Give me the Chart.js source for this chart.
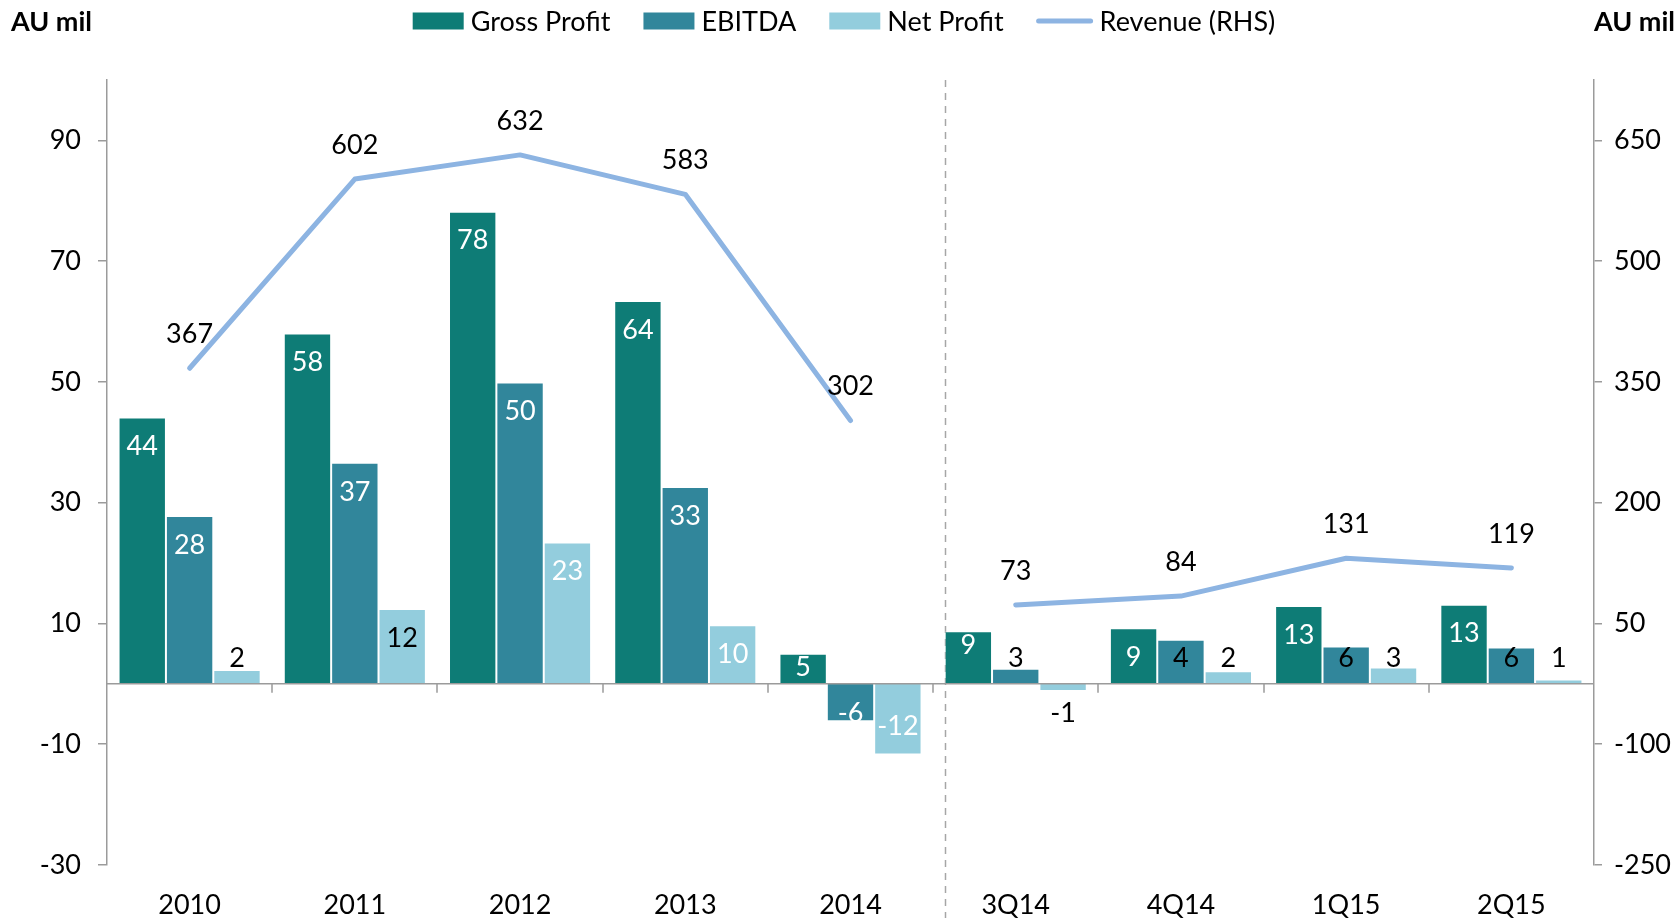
<!DOCTYPE html>
<html>
<head>
<meta charset="utf-8">
<script src="https://cdn.jsdelivr.net/npm/chart.js@4.4.1/dist/chart.umd.min.js"></script>
<style>
  html, body { margin: 0; padding: 0; background: #fff; }
  #wrap { width: 1677px; height: 918px; }
</style>
</head>
<body>
<div id="wrap"><canvas id="chart" width="1677" height="918"></canvas></div>
<script>
// values (bar heights), and the printed labels
var categories = ['2010', '2011', '2012', '2013', '2014', '3Q14', '4Q14', '1Q15', '2Q15'];
var grossProfit = [44.1, 58.0, 78.2, 63.4, 5.0, 8.7, 9.2, 12.9, 13.1];
var ebitda = [27.8, 36.6, 49.9, 32.6, -6.2, 2.5, 7.3, 6.2, 6.0];
var netProfit = [2.3, 12.4, 23.4, 9.7, -11.7, -1.2, 2.1, 2.7, 0.7];
var revenue = [367, 602, 632, 583, 302, 73, 84, 131, 119];

var grossProfitLabels = ['44', '58', '78', '64', '5', '9', '9', '13', '13'];
var ebitdaLabels = ['28', '37', '50', '33', '-6', '3', '4', '6', '6'];
var netProfitLabels = ['2', '12', '23', '10', '-12', '-1', '2', '3', '1'];

var leftTicks = [-30, -10, 10, 30, 50, 70, 90];
var rightTicks = [-250, -100, 50, 200, 350, 500, 650];

var FONT = 'Lato, "Open Sans", sans-serif';
var FSIZE = 27;
var AXIS_GREY = '#9b9b9b';
var W = '#ffffff', B = '#000000';

var overlay = {
  id: 'overlay',
  beforeDatasetsDraw: function(chart) {
    var ctx = chart.ctx;
    var el = chart.getDatasetMeta(0).data[5];
    var xd = Math.round(el.x - el.width / 2) + 0.5;
    ctx.save();
    ctx.strokeStyle = '#a6a6a6';
    ctx.lineWidth = 1.5;
    ctx.setLineDash([7, 6]);
    ctx.beginPath();
    ctx.moveTo(xd, chart.chartArea.top);
    ctx.lineTo(xd, chart.height);
    ctx.stroke();
    ctx.restore();
  },
  afterDatasetsDraw: function(chart) {
    var ctx = chart.ctx;
    var area = chart.chartArea;
    var xs = chart.scales.x;
    var y0 = chart.scales.y.getPixelForValue(0);

    // zero line with category dividers
    ctx.save();
    ctx.strokeStyle = AXIS_GREY;
    ctx.lineWidth = 1.5;
    ctx.beginPath();
    ctx.moveTo(area.left, y0);
    ctx.lineTo(area.right, y0);
    for (var i = 1; i < categories.length; i++) {
      var bx = Math.round((xs.getPixelForValue(i - 1) + xs.getPixelForValue(i)) / 2);
      ctx.moveTo(bx, y0);
      ctx.lineTo(bx, y0 + 9);
    }
    ctx.stroke();

    ctx.font = FSIZE + 'px ' + FONT;
    ctx.textAlign = 'center';
    ctx.textBaseline = 'middle';

    // bar labels: white ones sit inside the bar end, dark ones just off the axis
    chart.data.datasets.forEach(function(ds, di) {
      if (ds.type === 'line') return;
      var meta = chart.getDatasetMeta(di);
      meta.data.forEach(function(bar, j) {
        var v = ds.data[j];
        var col = ds.labelColors[j];
        var ly;
        if (v >= 0) {
          if (col === W) ly = bar.y + ((y0 - bar.y) >= 54 ? 29 : 14);
          else ly = Math.min(bar.y + 29, y0 - 26);
        } else {
          ly = Math.max(bar.y - 28, y0 + 29);
        }
        ctx.fillStyle = col;
        ctx.fillText(ds.labelText[j], bar.x, ly);
      });
    });

    // revenue labels
    var lineMeta = chart.getDatasetMeta(3);
    ctx.fillStyle = '#000';
    lineMeta.data.forEach(function(pt, j) {
      ctx.fillText(String(revenue[j]), pt.x, pt.y - 34);
    });
    ctx.restore();
  },
  afterDraw: function(chart) {
    var ctx = chart.ctx;
    ctx.save();
    ctx.textBaseline = 'middle';
    ctx.font = 'bold ' + FSIZE + 'px ' + FONT;
    ctx.fillStyle = '#000';
    ctx.textAlign = 'left';
    ctx.fillText('AU mil', 11, 22);
    ctx.fillText('AU mil', chart.chartArea.right, 22);

    // legend
    ctx.font = FSIZE + 'px ' + FONT;
    var boxW = 51, lineW = 56, gapText = 7, gapItem = 33;
    var items = chart.data.datasets.map(function(ds) {
      var sw = ds.type === 'line' ? lineW : boxW;
      return { ds: ds, sw: sw, w: sw + gapText + ctx.measureText(ds.label).width };
    });
    var total = items.reduce(function(s, it) { return s + it.w; }, 0) + gapItem * (items.length - 1);
    var x = 844 - total / 2;
    var cy = 21;
    items.forEach(function(it) {
      if (it.ds.type === 'line') {
        ctx.strokeStyle = it.ds.borderColor;
        ctx.lineWidth = 5;
        ctx.lineCap = 'round';
        ctx.beginPath();
        ctx.moveTo(x + 2, cy);
        ctx.lineTo(x + it.sw - 2, cy);
        ctx.stroke();
      } else {
        ctx.fillStyle = it.ds.backgroundColor;
        ctx.fillRect(x, cy - 8.5, it.sw, 17);
      }
      ctx.fillStyle = '#000';
      ctx.fillText(it.ds.label, x + it.sw + gapText, cy + 1);
      x += it.w + gapItem;
    });
    ctx.restore();
  }
};

function barSet(label, data, color, labelText, labelColors) {
  return {
    label: label,
    data: data,
    backgroundColor: color,
    borderColor: 'rgba(255,255,255,0.35)',
    borderWidth: 1,
    yAxisID: 'y',
    order: 1,
    categoryPercentage: 0.86,
    barPercentage: 1,
    labelText: labelText,
    labelColors: labelColors
  };
}

var tickFont = { family: FONT, size: FSIZE };

new Chart(document.getElementById('chart').getContext('2d'), {
  type: 'bar',
  data: {
    labels: categories,
    datasets: [
      barSet('Gross Profit', grossProfit, '#0E7C76', grossProfitLabels, [W, W, W, W, W, W, W, W, W]),
      barSet('EBITDA', ebitda, '#31869B', ebitdaLabels, [W, W, W, W, W, B, B, B, B]),
      barSet('Net Profit', netProfit, '#93CDDD', netProfitLabels, [B, B, W, W, W, B, B, B, B]),
      {
        type: 'line',
        label: 'Revenue (RHS)',
        data: revenue,
        yAxisID: 'y2',
        borderColor: '#8DB4E2',
        borderWidth: 5,
        borderCapStyle: 'round',
        borderJoinStyle: 'round',
        pointRadius: 0,
        tension: 0,
        order: 0,
        segment: {
          borderColor: function(c) { return c.p0DataIndex === 4 ? 'rgba(0,0,0,0)' : '#8DB4E2'; }
        }
      }
    ]
  },
  options: {
    responsive: false,
    animation: false,
    layout: { padding: { top: 80, left: 0, right: 0, bottom: 0 } },
    plugins: { legend: { display: false }, tooltip: { enabled: false } },
    scales: {
      x: {
        grid: { display: false, drawTicks: false },
        border: { display: false },
        ticks: { color: '#000', font: tickFont, padding: 24, maxRotation: 0, autoSkip: false },
        afterFit: function(s) { s.height = 53; }
      },
      y: {
        position: 'left',
        min: -30,
        max: 100,
        afterBuildTicks: function(s) { s.ticks = leftTicks.map(function(v) { return { value: v }; }); },
        ticks: { color: '#000', font: tickFont, padding: 17 },
        grid: { drawOnChartArea: false, tickLength: 9, color: AXIS_GREY, lineWidth: 1.5 },
        border: { color: AXIS_GREY, width: 1.5 },
        afterFit: function(s) { s.width = 107; }
      },
      y2: {
        position: 'right',
        min: -250,
        max: 725,
        afterBuildTicks: function(s) { s.ticks = rightTicks.map(function(v) { return { value: v }; }); },
        ticks: { color: '#000', font: tickFont, padding: 12 },
        grid: { drawOnChartArea: false, tickLength: 8, color: AXIS_GREY, lineWidth: 1.5 },
        border: { color: AXIS_GREY, width: 1.5 },
        afterFit: function(s) { s.width = 83; }
      }
    }
  },
  plugins: [overlay]
});
</script>
</body>
</html>
